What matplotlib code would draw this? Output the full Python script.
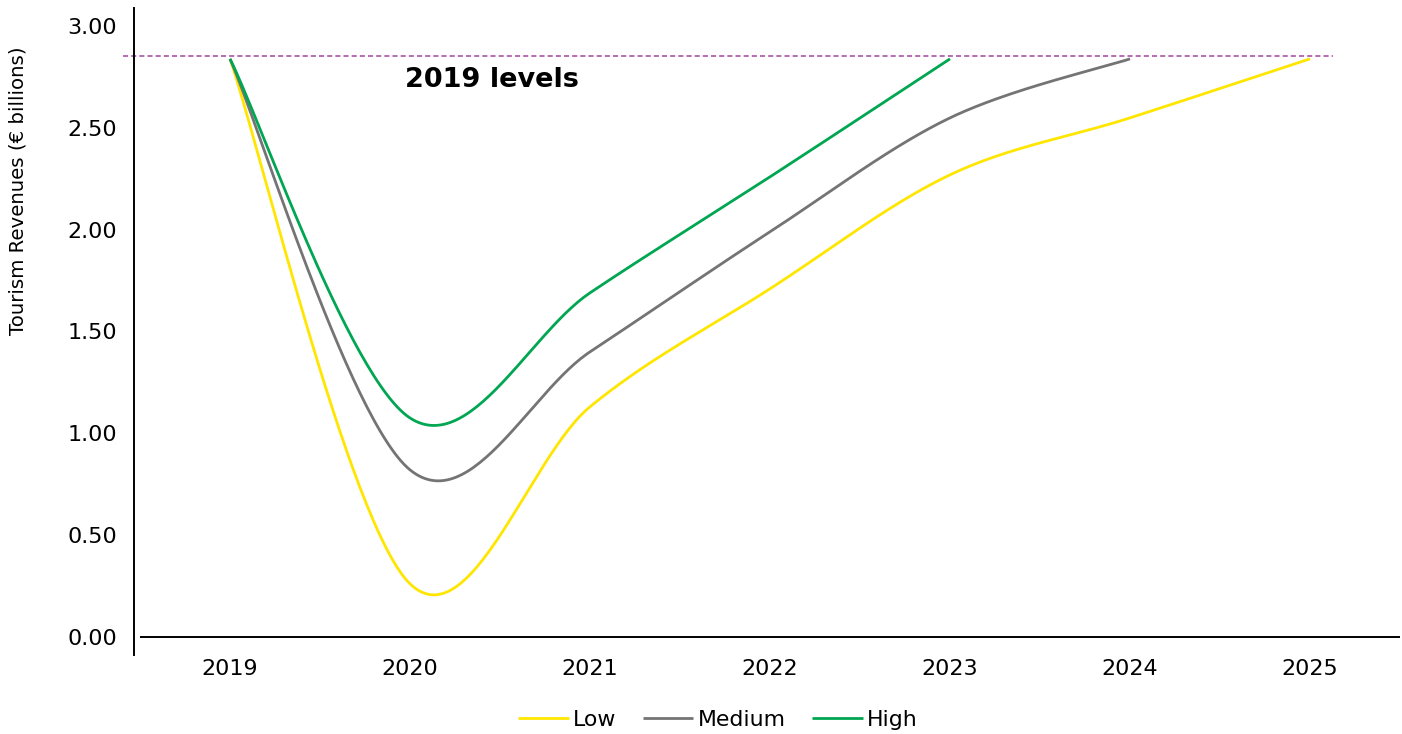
import numpy as np
import matplotlib
matplotlib.use("Agg")
import matplotlib.pyplot as plt

# ---- data ----
years_low = [2019, 2020, 2021, 2022, 2023, 2024, 2025]
low = [2.84, 0.26, 1.13, 1.71, 2.27, 2.55, 2.84]
years_med = [2019, 2020, 2021, 2022, 2023, 2024]
medium = [2.84, 0.82, 1.40, 1.99, 2.55, 2.84]
years_high = [2019, 2020, 2021, 2022, 2023]
high = [2.84, 1.075, 1.69, 2.26, 2.84]
level_2019 = 2.855
level_span = [2018.405, 2025.13]
xticks = [2019, 2020, 2021, 2022, 2023, 2024, 2025]
yticks = [0.0, 0.5, 1.0, 1.5, 2.0, 2.5, 3.0]

COL_LOW = "#FFE600"
COL_MED = "#747474"
COL_HIGH = "#00A651"
COL_REF = "#B36DB6"


def excel_smooth(xs, ys, n=60):
    """Bezier smoothing similar to Excel's 'smoothed line'."""
    P = np.column_stack([xs, ys]).astype(float)
    m = len(P)
    out = []
    for i in range(m - 1):
        p0 = P[i]
        p3 = P[i + 1]
        pm = P[i - 1] if i > 0 else P[i]
        pp = P[i + 2] if i + 2 < m else P[i + 1]
        c1 = p0 + (p3 - pm) / 6.0
        c2 = p3 - (pp - p0) / 6.0
        t = np.linspace(0, 1, n)[:, None]
        seg = ((1 - t) ** 3) * p0 + 3 * ((1 - t) ** 2) * t * c1 + 3 * (1 - t) * t ** 2 * c2 + t ** 3 * p3
        if i > 0:
            seg = seg[1:]
        out.append(seg)
    out = np.vstack(out)
    return out[:, 0], out[:, 1]


plt.rcParams['font.family'] = ['DejaVu Sans']
fig = plt.figure(figsize=(14.02, 7.34), dpi=100)
W, H = 1402, 734
ax = fig.add_axes([140 / W, 79 / H, 1260 / W, 647 / H])
ax.set_xlim(2018.5, 2025.5)
ax.set_ylim(-0.09, 3.09)

# reference 2019 level
ax.plot(level_span, [level_2019, level_2019], color=COL_REF, lw=1.4,
        dashes=(2.6, 1.6), clip_on=False, zorder=1)

lw = 2.0
for xs, ys, c, lab in [(years_low, low, COL_LOW, "Low"),
                       (years_med, medium, COL_MED, "Medium"),
                       (years_high, high, COL_HIGH, "High")]:
    sx, sy = excel_smooth(xs, ys)
    ax.plot(sx, sy, color=c, lw=lw, label=lab, solid_capstyle='butt', zorder=3)

# x axis line at zero
ax.axhline(0, color="black", lw=1.4, zorder=2)

for s in ["top", "right", "bottom"]:
    ax.spines[s].set_visible(False)
ax.spines["left"].set_position(("outward", 4.5))
ax.spines["left"].set_linewidth(1.4)

ax.set_xticks(xticks)
ax.set_xticklabels([str(x) for x in xticks])
ax.set_yticks(yticks)
ax.set_yticklabels([f"{v:.2f}" for v in yticks])
ax.tick_params(axis="both", length=0, labelsize=16, colors="black")
ax.tick_params(axis="x", pad=3)
ax.tick_params(axis="y", pad=12)

fig.text(18 / W, 1 - 191 / H, "Tourism Revenues (€ billions)", rotation=90,
         ha="center", va="center", fontsize=14.2)

fig.text(492 / W, 1 - 80 / H, "2019 levels", fontsize=19.5, fontweight="bold",
         ha="center", va="center")

leg = fig.legend(loc="center", bbox_to_anchor=(718 / W, 1 - 720 / H), ncol=3,
                 frameon=False, fontsize=15.8, handlelength=2.3, handletextpad=0.2,
                 columnspacing=1.2)

fig.savefig("out.png", dpi=100)
